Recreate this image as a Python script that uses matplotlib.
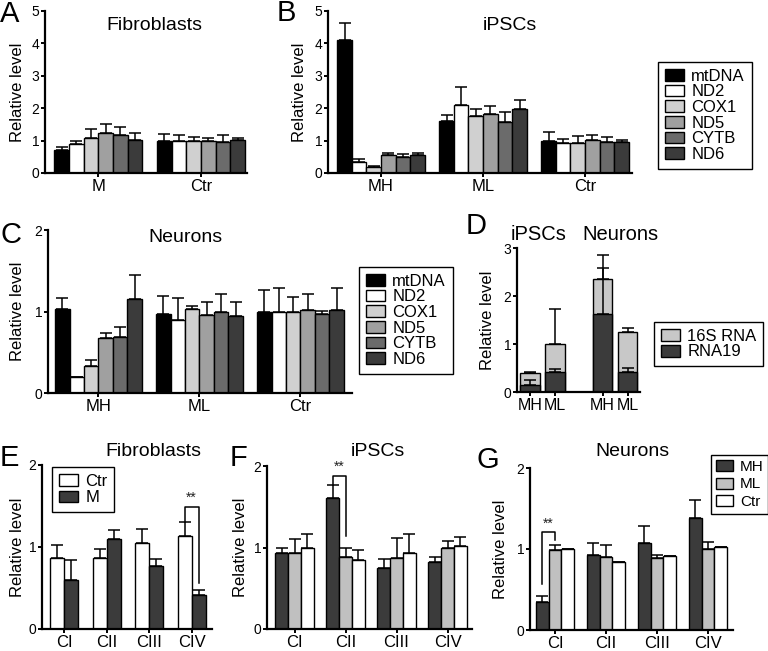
import numpy as np
import matplotlib
matplotlib.use('Agg')
import matplotlib.pyplot as plt
from matplotlib.patches import Patch

plt.rcParams['font.family'] = ['Liberation Sans', 'DejaVu Sans']

#======================================
# data
#======================================
genes = ['mtDNA', 'ND2', 'COX1', 'ND5', 'CYTB', 'ND6']
gene_colors = ['#000000', '#ffffff', '#d0d0d0', '#a0a0a0', '#6b6b6b', '#3b3b3b']

# A - fibroblasts
fib_groups = ['M', 'Ctr']
fib_vals = [[0.70, 0.88, 1.08, 1.23, 1.16, 1.03],
            [1.00, 1.00, 1.00, 1.00, 0.97, 1.02]]
fib_err = [[0.10, 0.11, 0.27, 0.29, 0.26, 0.20],
           [0.19, 0.17, 0.11, 0.09, 0.19, 0.07]]

# B - iPSCs
ipsc_groups = ['MH', 'ML', 'Ctr']
ipsc_vals = [[4.12, 0.35, 0.18, 0.56, 0.49, 0.56],
             [1.62, 2.10, 1.77, 1.82, 1.57, 1.99],
             [0.99, 0.94, 0.93, 1.01, 0.96, 0.95]]
ipsc_err = [[0.52, 0.07, 0.05, 0.07, 0.11, 0.05],
            [0.18, 0.55, 0.20, 0.26, 0.32, 0.25],
            [0.27, 0.10, 0.21, 0.15, 0.14, 0.07]]

# C - neurons
neur_groups = ['MH', 'ML', 'Ctr']
neur_vals = [[1.03, 0.20, 0.33, 0.67, 0.69, 1.15],
             [0.97, 0.90, 1.03, 0.96, 1.00, 0.94],
             [1.00, 1.00, 1.00, 1.02, 0.97, 1.02]]
neur_err = [[0.14, 0.00, 0.07, 0.07, 0.12, 0.30],
            [0.22, 0.27, 0.04, 0.16, 0.22, 0.18],
            [0.26, 0.29, 0.18, 0.19, 0.04, 0.27]]

# D - transcripts
rna_labels = ['MH', 'ML', 'MH', 'ML']
rna_pos = [0, 1, 2.9, 3.9]
rna19 = [0.15, 0.42, 1.63, 0.42]
rna19_err = [0.09, 0.05, 0.95, 0.07]
s16_total = [0.40, 0.99, 2.35, 1.25]
s16_err = [0.02, 0.74, 0.50, 0.08]

# E, F, G - respiratory complexes
complexes = ['CI', 'CII', 'CIII', 'CIV']
fibc_ctr = [0.87, 0.86, 1.05, 1.13]
fibc_ctr_err = [0.15, 0.12, 0.17, 0.17]
fibc_m = [0.60, 1.10, 0.77, 0.42]
fibc_m_err = [0.24, 0.11, 0.08, 0.05]

ipscc_vals = [[0.93, 1.61, 0.75, 0.82],   # MH
              [0.93, 0.88, 0.87, 0.99],   # ML
              [1.00, 0.85, 0.93, 1.02]]   # Ctr
ipscc_err = [[0.07, 0.16, 0.11, 0.06],
             [0.17, 0.12, 0.25, 0.09],
             [0.16, 0.12, 0.24, 0.11]]

neurc_vals = [[0.35, 0.93, 1.08, 1.38],
              [0.99, 0.90, 0.89, 1.00],
              [1.00, 0.84, 0.91, 1.02]]
neurc_err = [[0.07, 0.15, 0.20, 0.22],
             [0.06, 0.15, 0.04, 0.09],
             [0.00, 0.00, 0.00, 0.00]]

cmplx_names = ['MH', 'ML', 'Ctr']
cmplx_colors = ['#3b3b3b', '#c0c0c0', '#ffffff']

#======================================
# figure helpers
#======================================
W, H = 768, 651
fig = plt.figure(figsize=(W / 100, H / 100), dpi=100)


def px_axes(x0, x1, ytop, ybot):
    return fig.add_axes([x0 / W, 1 - ybot / H, (x1 - x0) / W, (ybot - ytop) / H])


def style(ax, ymax, xlim, ticks, labels, label_px, x0, x1, xfs=12):
    ax.spines['top'].set_visible(False)
    ax.spines['right'].set_visible(False)
    for s in ['left', 'bottom']:
        ax.spines[s].set_linewidth(1.6)
    ax.set_ylim(0, ymax)
    ax.set_xlim(*xlim)
    ax.set_yticks(range(0, ymax + 1))
    ax.set_xticks(ticks)
    ax.set_xticklabels(labels, fontsize=xfs)
    ax.tick_params(axis='y', labelsize=10, width=1.4, length=3, pad=1)
    ax.tick_params(axis='x', width=1.4, length=3, pad=1)
    ax.set_ylabel('Relative level', fontsize=12)
    ax.yaxis.set_label_coords((label_px - x0) / (x1 - x0), 0.5)


def bars(ax, x, vals, err, color, width):
    ax.bar(x, vals, width, color=color, edgecolor='black', linewidth=1.0, zorder=2)
    e = np.array(err)
    ax.errorbar(x, vals, yerr=[np.zeros_like(e), e], fmt='none', ecolor='black',
                elinewidth=1.1, capsize=4.5, capthick=1.1, zorder=3)


def bracket(ax, xl, xr, yl, yr, ytop):
    ax.plot([xl, xl, xr, xr], [yl, ytop, ytop, yr], color='black', lw=1.1, zorder=4)
    ax.text((xl + xr) / 2, ytop + 0.02, '**', ha='center', va='bottom', fontsize=10,
            color='#222222')


def legend(handles_labels, x, y, fs=12, spacing=0.12, pad=0.4):
    hs = [Patch(facecolor=c, edgecolor='black', linewidth=1.0) for c, _ in handles_labels]
    ls = [l for _, l in handles_labels]
    leg = fig.legend(hs, ls, loc='upper left', bbox_to_anchor=(x / W, 1 - y / H),
                     bbox_transform=fig.transFigure, borderaxespad=0, fontsize=fs,
                     frameon=True, fancybox=False, framealpha=1, handlelength=1.15,
                     handleheight=0.72, handletextpad=0.45, labelspacing=spacing,
                     borderpad=pad)
    leg.get_frame().set_edgecolor('black')
    leg.get_frame().set_linewidth(1.0)


def gene_panel(ax, groups, vals, err):
    w = 0.143
    xg = np.arange(len(groups))
    for i in range(len(genes)):
        bars(ax, xg + (i - 2.5) * w, [v[i] for v in vals], [e[i] for e in err],
             gene_colors[i], w)


#======================================
# A
#======================================
axA = px_axes(45, 247, 11, 173)
gene_panel(axA, fib_groups, fib_vals, fib_err)
style(axA, 5, (-0.52, 1.45), range(2), fib_groups, 25, 45, 247)
fig.text(154 / W, 1 - 25 / H, 'Fibroblasts', ha='center', va='center', fontsize=14)

# B
axB = px_axes(328, 632, 11, 173)
gene_panel(axB, ipsc_groups, ipsc_vals, ipsc_err)
style(axB, 5, (-0.52, 2.46), range(3), ipsc_groups, 307, 328, 632)
fig.text(510 / W, 1 - 25 / H, 'iPSCs', ha='center', va='center', fontsize=14)
legend(list(zip(gene_colors, genes)), 658, 62, spacing=0.04)

# C
axC = px_axes(48, 352, 230, 393)
gene_panel(axC, neur_groups, neur_vals, neur_err)
style(axC, 2, (-0.5, 2.51), range(3), neur_groups, 25, 48, 352)
fig.text(185 / W, 1 - 238 / H, 'Neurons', ha='center', va='center', fontsize=14)
legend(list(zip(gene_colors, genes)), 359, 267, spacing=0.04)

# D
axD = px_axes(517, 640, 248, 392)
wd = 0.78
bars(axD, rna_pos, s16_total, s16_err, '#c8c8c8', wd)
bars(axD, rna_pos, rna19, rna19_err, '#3b3b3b', wd)
style(axD, 3, (-0.52, 4.4), rna_pos, rna_labels, 495, 517, 640, xfs=11.5)
fig.text(539 / W, 1 - 235 / H, 'iPSCs', ha='center', va='center', fontsize=14.5)
fig.text(620 / W, 1 - 235 / H, 'Neurons', ha='center', va='center', fontsize=14.5)
legend([('#c8c8c8', '16S RNA'), ('#3b3b3b', 'RNA19')], 654, 322, spacing=0.05)

# E
axE = px_axes(42, 212, 465, 629)
we = 0.33
xc = np.arange(len(complexes))
bars(axE, xc - we / 2, fibc_ctr, fibc_ctr_err, '#ffffff', we)
bars(axE, xc + we / 2, fibc_m, fibc_m_err, '#3b3b3b', we)
style(axE, 2, (-0.52, 3.48), xc, complexes, 25, 42, 212)
bracket(axE, 3 - we / 2, 3 + we / 2, fibc_ctr[3] + fibc_ctr_err[3], 0.56, 1.49)
fig.text(153 / W, 1 - 452 / H, 'Fibroblasts', ha='center', va='center', fontsize=14)
legend([('#ffffff', 'Ctr'), ('#3b3b3b', 'M')], 52, 467, spacing=0.1)

# F
axF = px_axes(267, 472, 466, 629)
wf = 0.25
for k in range(3):
    bars(axF, xc + (k - 1) * wf, ipscc_vals[k], ipscc_err[k], cmplx_colors[k], wf)
style(axF, 2, (-0.54, 3.48), xc, complexes, 248, 267, 472)
bracket(axF, 1 - wf, 1, ipscc_vals[0][1] + ipscc_err[0][1], 1.14, 1.88)
fig.text(378 / W, 1 - 452 / H, 'iPSCs', ha='center', va='center', fontsize=14)

# G
axG = px_axes(530, 733, 468, 630)
for k in range(3):
    bars(axG, xc + (k - 1) * wf, neurc_vals[k], neurc_err[k], cmplx_colors[k], wf)
style(axG, 2, (-0.49, 3.49), xc, complexes, 508, 530, 733)
bracket(axG, -wf, 0, 0.57, 1.11, 1.21)
fig.text(632 / W, 1 - 452 / H, 'Neurons', ha='center', va='center', fontsize=14)
legend(list(zip(cmplx_colors, cmplx_names)), 711, 455, fs=11, spacing=0.25, pad=0.3)

# panel letters
for letter, x, y in [('A', 0, 14), ('B', 277, 13), ('C', 0, 235), ('D', 466, 226),
                     ('E', 0, 458), ('F', 230, 458), ('G', 476, 460)]:
    fig.text(x / W, 1 - y / H, letter, ha='left', va='center', fontsize=21)

fig.savefig('out.png', dpi=100)
